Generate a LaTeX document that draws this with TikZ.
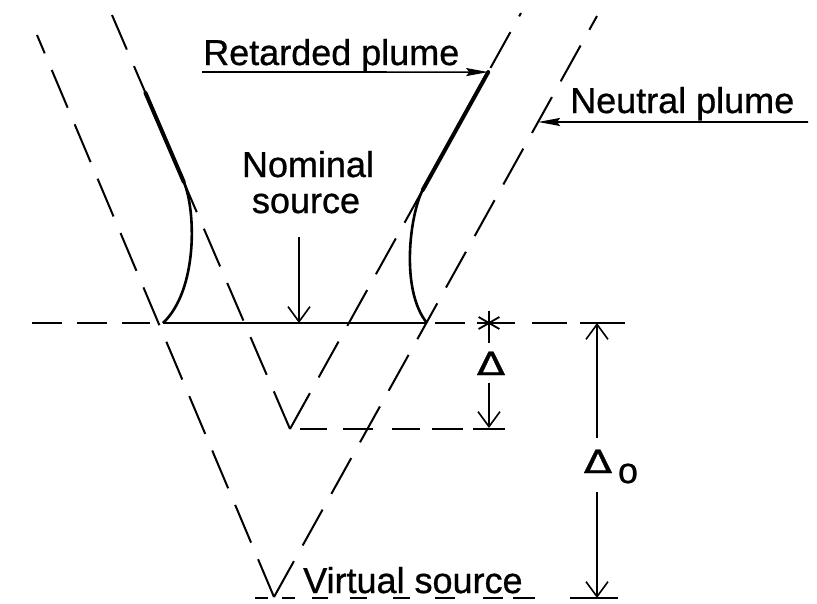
\documentclass[tikz,border=0pt]{standalone}
\usepackage{fontspec}
\setmainfont{Liberation Sans}
\newfontfamily\lblfont{Liberation Sans}[FakeBold=0.8]
\newfontfamily\grkfont{DejaVu Sans}[FakeBold=0.8]
\usetikzlibrary{arrows.meta,calc}
\begin{document}
\begin{tikzpicture}[x=1pt,y=-1pt,
  dline/.style={line width=2pt, dash pattern=on 41pt off 18pt},
  seg/.style={line width=1.8pt},
  plume/.style={line width=2.6pt},
  thickpart/.style={line width=4pt, line cap=round},
  dim/.style={line width=1.5pt},
  barb/.style={-{Straight Barb[length=15pt,width=22pt,line width=1.6pt]}},
  pointer/.style={line width=1.6pt, -{Stealth[length=22pt,width=8pt,inset=3pt]}},
  lbl/.style={inner sep=0pt, font=\lblfont\fontsize{36}{36}\selectfont},
  grk/.style={inner sep=0pt, font=\grkfont\fontsize{32}{32}\selectfont},
]
\useasboundingbox (0,0) rectangle (817,603);
% ---- key points
\coordinate (VS) at (274,597);   % virtual source apex
\coordinate (NS) at (290,429);   % inner apex
\coordinate (LOtop) at (37,35);
\coordinate (ROtop) at (597,16);
\coordinate (LItop) at (112,15);
\coordinate (RItop) at (521,13);
\coordinate (NL) at (163,323);
\coordinate (NR) at (427,323);
\coordinate (L1) at ($(NS)!0.597!(LItop)$);
\coordinate (L2) at ($(NS)!0.812!(LItop)$);
\coordinate (R1) at ($(NS)!0.5745!(RItop)$);
\coordinate (RP) at ($(NS)!0.858!(RItop)$);
\coordinate (NP) at ($(VS)!0.8176!(ROtop)$);

% ---- dashed V lines
\draw[dline] (VS) -- (LOtop);
\draw[dline] (VS) -- (ROtop);
\draw[dline] (NS) -- (LItop);
\draw[dline] (NS) -- (RItop);

% ---- retarded plume
\draw[thickpart] (L1) -- (L2);
\draw[thickpart] (R1) -- (RP);
\draw[plume] (L1) .. controls (196,210) and (198,290) .. (NL);
\draw[plume] (R1) .. controls (410,214) and (400,290) .. (NR);
\draw[line width=2pt] (NL) -- (NR);

% ---- horizontal dashed levels
\foreach \a/\b in {32/62, 77/107, 122/150, 435/465, 477/515, 532/567, 580/625}
  \draw[seg] (\a,323) -- (\b,323);
\foreach \a/\b in {300/327, 343/373, 392/420, 432/463, 473/505}
  \draw[seg] (\a,429) -- (\b,429);
\foreach \a/\b in {255/268, 282/295, 312/328, 350/367, 393/410, 435/455, 483/503, 513/535}
  \draw[seg] (\a,598) -- (\b,598);
\draw[seg] (570,598) -- (618,598);

% ---- labels
\node[lbl, anchor=base west] (ret) at (203,65) {Retarded plume};
\draw[pointer] (202,72) -- (RP);
\node[lbl, anchor=base west] (neu) at (570,113) {Neutral plume};
\draw[pointer] (808,122) -- (NP);
\node[lbl, anchor=base] (nom1) at (308,177) {Nominal};
\node[lbl, anchor=base] (nom2) at (306,213) {source};
\coordinate (nomtip) at (299,323);
\draw[dim, barb] (299,237) -- (nomtip);
\node[lbl, anchor=base west] (vir) at (303,593) {Virtual source};

% ---- Delta dimension
\coordinate (star) at (489,323);
\foreach \ang in {90,30,150}
  \draw[line width=1.8pt] ($(star)+(\ang:12)$) -- ($(star)+(\ang+180:12)$);
\draw[dim] (star) -- (489,343);
\node[grk, anchor=base] (delta) at (491,375) {\scalebox{1.3}[1]{Δ}};
\coordinate (dtip) at (489,428);
\draw[dim, barb] (489,383) -- (dtip);

% ---- Delta_o dimension
\coordinate (d0top) at (597,323);
\coordinate (d0bot) at (597,598);
\node[grk, anchor=base] (delta0) at (598,473) {\scalebox{1.3}[1]{Δ}};
\node[lbl, anchor=base] (sub0) at (628,483) {o};
\draw[dim, barb] (597,438) -- (d0top);
\draw[dim, barb] (597,492) -- (d0bot);
\end{tikzpicture}
\end{document}
